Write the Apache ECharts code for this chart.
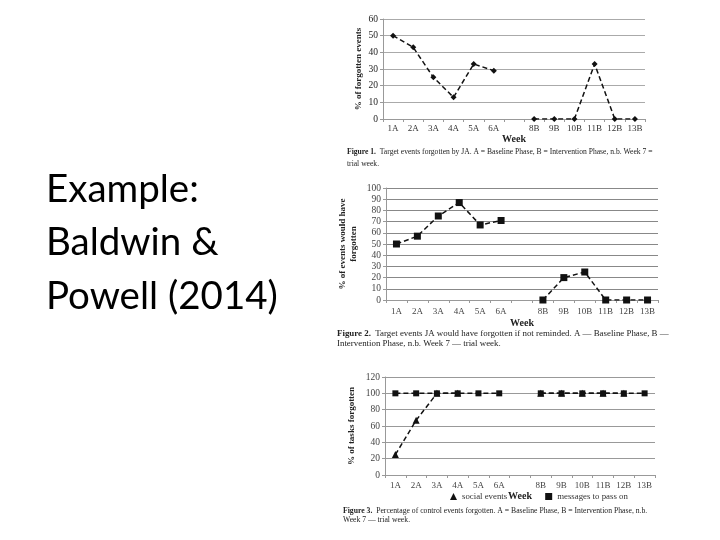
<!DOCTYPE html>
<html>
<head>
<meta charset="utf-8">
<script src="https://cdn.jsdelivr.net/npm/echarts@6/dist/echarts.min.js"></script>
<style>
html,body{margin:0;padding:0;background:#fff;}
#c{width:720px;height:540px;}
</style>
</head>
<body>
<div id="c"></div>
<script>
const categories = ['1A','2A','3A','4A','5A','6A','','8B','9B','10B','11B','12B','13B'];
const fig1Values = [50,43,25,13,33,29,null,0,0,0,33,0,0];
const fig2Values = [50,57,75,87,67,71,null,0,20,25,0,0,0];
const fig3Social = [25,67,100,100,null,null,null,100,100,100,100,100,null];
const fig3Messages = [100,100,100,100,100,100,null,100,100,100,100,100,100];
const fig1YTicks = {min:0, max:60, interval:10};
const fig2YTicks = {min:0, max:100, interval:10};
const fig3YTicks = {min:0, max:120, interval:20};

const serif = 'Liberation Serif';
const chart = echarts.init(document.getElementById('c'));

function xAxis(gridIndex, margin, nameGap, color) {
  return {
    type:'category', gridIndex, data:categories, boundaryGap:true,
    name:'Week', nameLocation:'middle', nameGap,
    nameTextStyle:{fontFamily:serif, fontWeight:'bold', fontSize:10, color:'#222'},
    axisLine:{show:true, lineStyle:{color:'#999', width:1}},
    axisTick:{show:true, length:3, lineStyle:{color:'#999'}},
    axisLabel:{fontFamily:serif, fontSize:9, color:color, margin, interval:0},
    splitLine:{show:false}
  };
}
function yAxis(gridIndex, ticks, name, nameGap, gridColor, labelColor) {
  return {
    type:'value', gridIndex, min:ticks.min, max:ticks.max, interval:ticks.interval,
    name, nameLocation:'middle', nameGap, nameRotate:90,
    nameTextStyle:{fontFamily:serif, fontWeight:'bold', fontSize:9, color:'#222', lineHeight:11},
    axisLine:{show:true, lineStyle:{color:'#999', width:1}},
    axisTick:{show:true, length:3, lineStyle:{color:'#999'}},
    axisLabel:{fontFamily:serif, fontSize:9.5, color:labelColor, margin:5},
    splitLine:{show:true, lineStyle:{color:gridColor, width:1}}
  };
}
function lineSeries(name, xi, data, symbol, size, z) {
  return {
    name, type:'line', xAxisIndex:xi, yAxisIndex:xi, data,
    symbol, symbolSize:size, connectNulls:false, z:z||2,
    lineStyle:{color:'#111', width:1.5, type:[5,3]},
    itemStyle:{color:'#111'},
    emphasis:{disabled:true}, animation:false
  };
}

function caption(x, y, bold, rest, size) {
  return {
    type:'text', left:x, top:y,
    style:{
      text:'{b|'+bold+'}  '+rest,
      fontFamily:serif, fontSize:size, fill:'#222',
      rich:{b:{fontFamily:serif, fontWeight:'bold', fontSize:size, fill:'#222'}}
    }
  };
}
function plainText(x, y, text, size) {
  return {type:'text', left:x, top:y, style:{text, fontFamily:serif, fontSize:size, fill:'#222'}};
}

const option = {
  animation:false,
  backgroundColor:'#fff',
  grid:[
    {left:383, top:19, width:262, height:100},
    {left:386, top:188, width:272, height:112},
    {left:385, top:377, width:270, height:98}
  ],
  xAxis:[ xAxis(0,5,15,'#333'), xAxis(1,7,18,'#444'), xAxis(2,6,16,'#444') ],
  yAxis:[
    yAxis(0, fig1YTicks, '% of forgotten events', 19, '#aaa', '#222'),
    yAxis(1, fig2YTicks, '% of events would have\nforgotten', 27, '#888', '#444'),
    yAxis(2, fig3YTicks, '% of tasks forgotten', 28, '#999', '#444')
  ],
  legend:{
    data:[{name:'social events', icon:'triangle'},{name:'messages to pass on', icon:'rect'}],
    left:450, top:492, padding:0, itemWidth:7, itemHeight:7, itemGap:38,
    textStyle:{fontFamily:serif, fontSize:8.8, color:'#333'},
    selectedMode:false
  },
  series:[
    lineSeries('fig1', 0, fig1Values, 'diamond', 6),
    lineSeries('fig2', 1, fig2Values, 'rect', 7),
    lineSeries('messages to pass on', 2, fig3Messages, 'rect', 6, 2),
    lineSeries('social events', 2, fig3Social, 'triangle', 7, 3)
  ],
  graphic:[
    {type:'text', left:46, top:170, style:{text:'Example:', fontFamily:'Lato', fontSize:38.5, fill:'#000'}},
    {type:'text', left:46, top:223, style:{text:'Baldwin &', fontFamily:'Lato', fontSize:38.5, fill:'#000'}},
    {type:'text', left:46, top:277, style:{text:'Powell (2014)', fontFamily:'Lato', fontSize:38.5, fill:'#000'}},
    caption(347, 148, 'Figure 1.', 'Target events forgotten by JA. A = Baseline Phase, B = Intervention Phase, n.b. Week 7 =', 7.6),
    plainText(347, 160, 'trial week.', 7.6),
    caption(337, 329, 'Figure 2.', 'Target events JA would have forgotten if not reminded. A \u2014 Baseline Phase, B \u2014', 8.9),
    plainText(337, 339, 'Intervention Phase, n.b. Week 7 \u2014 trial week.', 8.9),
    caption(343, 507, 'Figure 3.', 'Percentage of control events forgotten. A = Baseline Phase, B = Intervention Phase, n.b.', 7.7),
    plainText(343, 516, 'Week 7 \u2014 trial week.', 7.7)
  ]
};
chart.setOption(option);
</script>
</body>
</html>
